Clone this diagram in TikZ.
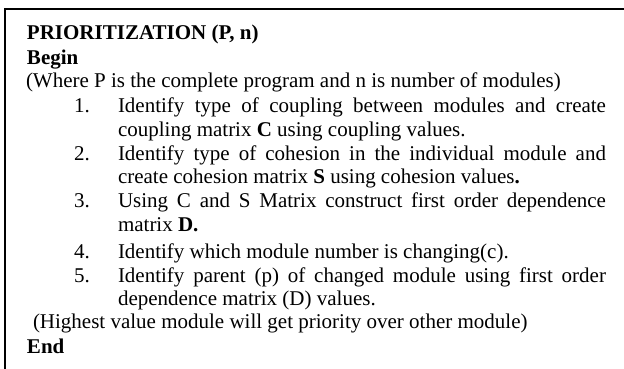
\documentclass[tikz,border=0pt]{standalone}
\usepackage{fontspec}
\setmainfont{Liberation Serif}
\begin{document}
\begin{tikzpicture}[x=1pt,y=-1pt,
  txt/.style={anchor=base west,inner sep=0pt,outer sep=0pt,font=\fontsize{21}{24}\selectfont},
  num/.style={txt},
  frame/.style={line width=2pt,draw=black}]
\useasboundingbox (0,0) rectangle (624,369);
\coordinate (tl) at (5,9);
\coordinate (tr) at (624,9);
\coordinate (bl) at (5,369);
\draw[frame] (bl) -- (tl) -- (tr);
\def\jw{488pt}
\node[txt] (title) at (27,40) {\textbf{PRIORITIZATION (P, n)}};
\node[txt] (begin) at (27,65) {\textbf{Begin}};
\node[txt] (where) at (26,88) {(Where P is the complete program and n is number of modules)};
\node[num] (n1) at (74,112) {1.};
\node[txt] (a1) at (118,112) {\makebox[\jw][s]{Identify type of coupling between modules and create}};
\node[txt] (b1) at (118,136) {coupling matrix \textbf{C} using coupling values.};
\node[num] (n2) at (74,160) {2.};
\node[txt] (a2) at (118,160) {\makebox[\jw][s]{Identify type of cohesion in the individual module and}};
\node[txt] (b2) at (118,183) {create cohesion matrix \textbf{S} using cohesion values\textbf{.}};
\node[num] (n3) at (74,207) {3.};
\node[txt] (a3) at (118,207) {\makebox[\jw][s]{Using C and S Matrix construct first order dependence}};
\node[txt] (b3) at (118,231) {matrix \textbf{D.}};
\node[num] (n4) at (74,258) {4.};
\node[txt] (a4) at (118,258) {Identify which module number is changing(c).};
\node[num] (n5) at (74,282) {5.};
\node[txt] (a5) at (118,282) {\makebox[\jw][s]{Identify parent (p) of changed module using first order}};
\node[txt] (b5) at (118,305) {dependence matrix (D) values.};
\node[txt] (hi) at (33,328) {(Highest value module will get priority over other module)};
\node[txt] (end) at (27,353) {\textbf{End}};
\end{tikzpicture}
\end{document}
